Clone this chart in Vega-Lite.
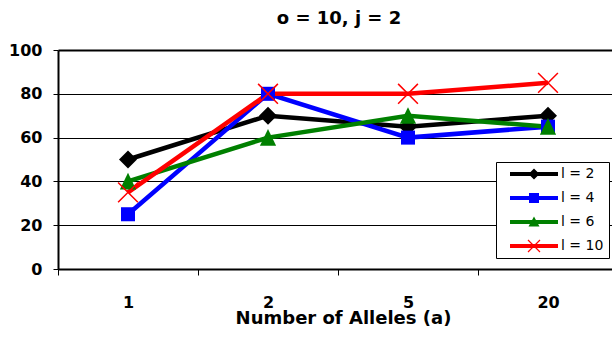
{
  "$schema": "https://vega.github.io/schema/vega-lite/v6.json",
  "width": 554,
  "height": 219,
  "autosize": {"type": "none"},
  "padding": {"left": 58, "top": 50, "right": 0, "bottom": 68},
  "background": "white",
  "config": {"view": {"stroke": null}, "font": "DejaVu Sans"},
  "title": {"text": "o = 10, j = 2", "font": "DejaVu Sans", "fontSize": 18, "fontWeight": "bold", "baseline": "alphabetic", "offset": 0, "anchor": "middle", "dx": 4, "color": "black"},
  "data": {"values": [
    {"a": "1", "l": "l = 2", "v": 50},
    {"a": "2", "l": "l = 2", "v": 70},
    {"a": "5", "l": "l = 2", "v": 65},
    {"a": "20", "l": "l = 2", "v": 70},
    {"a": "1", "l": "l = 4", "v": 25},
    {"a": "2", "l": "l = 4", "v": 80},
    {"a": "5", "l": "l = 4", "v": 60},
    {"a": "20", "l": "l = 4", "v": 65},
    {"a": "1", "l": "l = 6", "v": 40},
    {"a": "2", "l": "l = 6", "v": 60},
    {"a": "5", "l": "l = 6", "v": 70},
    {"a": "20", "l": "l = 6", "v": 65},
    {"a": "1", "l": "l = 10", "v": 35},
    {"a": "2", "l": "l = 10", "v": 80},
    {"a": "5", "l": "l = 10", "v": 80},
    {"a": "20", "l": "l = 10", "v": 85}
  ]},
  "encoding": {
    "x": {
      "field": "a", "type": "ordinal", "bandPosition": 0.5,
      "scale": {"type": "band", "domain": ["1", "2", "5", "20"], "range": [0, 560], "paddingInner": 0, "paddingOuter": 0},
      "axis": {
        "title": "Number of Alleles (a)", "tickBand": "extent", "labelAngle": 0,
        "labelFont": "DejaVu Sans", "labelFontSize": 16, "labelFontWeight": "bold", "labelColor": "black",
        "labelBaseline": "alphabetic", "labelPadding": 32, "tickSize": 6, "tickColor": "black", "tickWidth": 1,
        "domainColor": "black", "domainWidth": 2, "grid": false,
        "titleFont": "DejaVu Sans", "titleFontSize": 18, "titleFontWeight": "bold", "titleColor": "black",
        "titleBaseline": "alphabetic", "titleY": 54, "titleX": 285
      }
    },
    "y": {
      "field": "v", "type": "quantitative",
      "scale": {"domain": [0, 100], "nice": false},
      "axis": {
        "title": null, "values": [0, 20, 40, 60, 80, 100],
        "labelFont": "DejaVu Sans", "labelFontSize": 16, "labelFontWeight": "bold", "labelColor": "black",
        "labelBaseline": "middle", "labelPadding": 11, "tickSize": 5, "tickColor": "black", "tickWidth": 1,
        "domainColor": "black", "domainWidth": 2,
        "gridColor": "black", "gridOpacity": 1,
        "gridWidth": {"condition": {"test": "datum.value == 100", "value": 2}, "value": 1}
      }
    },
    "color": {
      "field": "l", "type": "nominal",
      "scale": {"domain": ["l = 2", "l = 4", "l = 6", "l = 10"], "range": ["#000000", "#0000FF", "#008000", "#FF0000"]},
      "legend": {
        "title": null, "orient": "none", "legendX": 438, "legendY": 112,
        "fillColor": "white", "strokeColor": "black", "padding": 5,
        "labelFont": "DejaVu Sans", "labelFontSize": 14, "labelColor": "black",
        "labelExpr": "datum.label + '            '",
        "symbolSize": 100, "symbolOffset": 26, "labelOffset": 20, "rowPadding": 10,
        "symbolStrokeWidth": 0,
        "encode": {
          "symbols": {
            "update": {
              "shape": {"signal": "datum.value === 'l = 2' ? 'M-4.8,-0.4L4.8,-0.4L4.8,0.4L-4.8,0.4Z M0,-1.1L1.1,0L0,1.1L-1.1,0Z' : datum.value === 'l = 4' ? 'M-4.8,-0.4L4.8,-0.4L4.8,0.4L-4.8,0.4Z M-1,-1L1,-1L1,1L-1,1Z' : datum.value === 'l = 6' ? 'M-4.8,-0.4L4.8,-0.4L4.8,0.4L-4.8,0.4Z M0,-1.1L1.1,0.9L-1.1,0.9Z' : 'M-4.8,-0.4L4.8,-0.4L4.8,0.4L-4.8,0.4Z M-1.115,-1.285L1.285,1.115L1.115,1.285L-1.285,-1.115Z M1.285,-1.115L-1.115,1.285L-1.285,1.115L1.115,-1.285Z'"},
              "fill": {"signal": "scale('color', datum.value)"},
              "opacity": {"value": 1}
            }
          }
        }
      }
    }
  },
  "layer": [
    {"mark": {"type": "line", "strokeWidth": 4.5}},
    {
      "transform": [{"filter": {"field": "l", "equal": "l = 2"}}],
      "mark": {"type": "point", "filled": true, "size": 324, "opacity": 1, "shape": "M0,-1L1,0L0,1L-1,0Z"}
    },
    {
      "transform": [{"filter": {"field": "l", "equal": "l = 4"}}],
      "mark": {"type": "point", "filled": true, "size": 324, "opacity": 1, "shape": "M-0.78,-0.78L0.78,-0.78L0.78,0.78L-0.78,0.78Z"}
    },
    {
      "transform": [{"filter": {"field": "l", "equal": "l = 6"}}],
      "mark": {"type": "point", "filled": true, "size": 324, "opacity": 1, "shape": "M0,-0.95L0.9,0.9L-0.9,0.9Z"}
    },
    {
      "transform": [{"filter": {"field": "l", "equal": "l = 10"}}],
      "mark": {"type": "point", "filled": true, "size": 324, "opacity": 1, "shape": "M-1.04,-1.16L1.16,1.04L1.04,1.16L-1.16,-1.04Z M1.16,-1.04L-1.04,1.16L-1.16,1.04L1.04,-1.16Z"}
    }
  ]
}
